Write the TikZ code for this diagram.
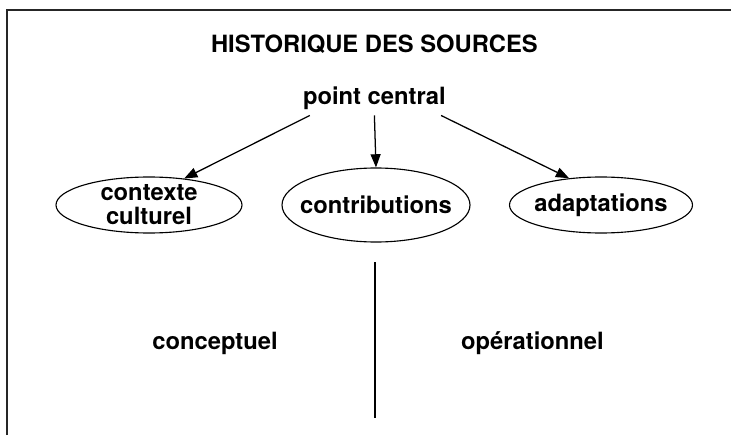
\documentclass[tikz,border=0pt]{standalone}
\usepackage{fontspec}
\setmainfont{TeX Gyre Heros}
\usetikzlibrary{shapes.geometric,arrows.meta}
\tikzset{
	lbl/.style={font=\bfseries\fontsize{16.9}{17}\selectfont},
	bulle/.style={draw,ellipse,line width=0.8pt,inner sep=0pt},
	fl/.style={-{Triangle[length=0.33cm,width=0.25cm]},line width=0.9pt}
}
\begin{document}
\begin{tikzpicture}
		\useasboundingbox (0,0) rectangle (18.275,10.875);
		\draw[line width=1.3pt,black!85] (0.175,0) -- (0.175,10.625) -- (18.275,10.625);
		\node[lbl,anchor=base] (T) at (9.36,9.5575) {HISTORIQUE DES SOURCES};
		\node[lbl,anchor=base,inner sep=0.125cm] (P) at (9.36,8.25) {point central};
		% les trois bulles
		\node[bulle,minimum width=4.65cm,minimum height=1.4cm,
			label={[lbl,align=center]center:contexte\\culturel}] (C1) at (3.725,5.75) {};
		\node[bulle,minimum width=4.7cm,minimum height=1.85cm,
			label={[lbl]center:contributions}] (C2) at (9.4,5.75) {};
		\node[bulle,minimum width=4.575cm,minimum height=1.4cm,
			label={[lbl]center:adaptations}] (C3) at (15.025,5.75) {};
		\draw[fl] ([xshift=0.3cm]P.south west) -- (C1.37);
		\draw[fl] (P.south) -- (C2.north);
		\draw[fl] ([xshift=-0.25cm]P.south east) -- (C3.140);
		% separation
		\coordinate (H) at (9.375,4.325);
		\coordinate (B) at (9.375,0.425);
		\draw[line width=0.9pt] (H) -- (B);
		\node[lbl,anchor=base] (G) at (5.375,2.15) {conceptuel};
		\node[lbl,anchor=base] (D) at (13.31,2.15) {opérationnel};
	\end{tikzpicture}
\end{document}
